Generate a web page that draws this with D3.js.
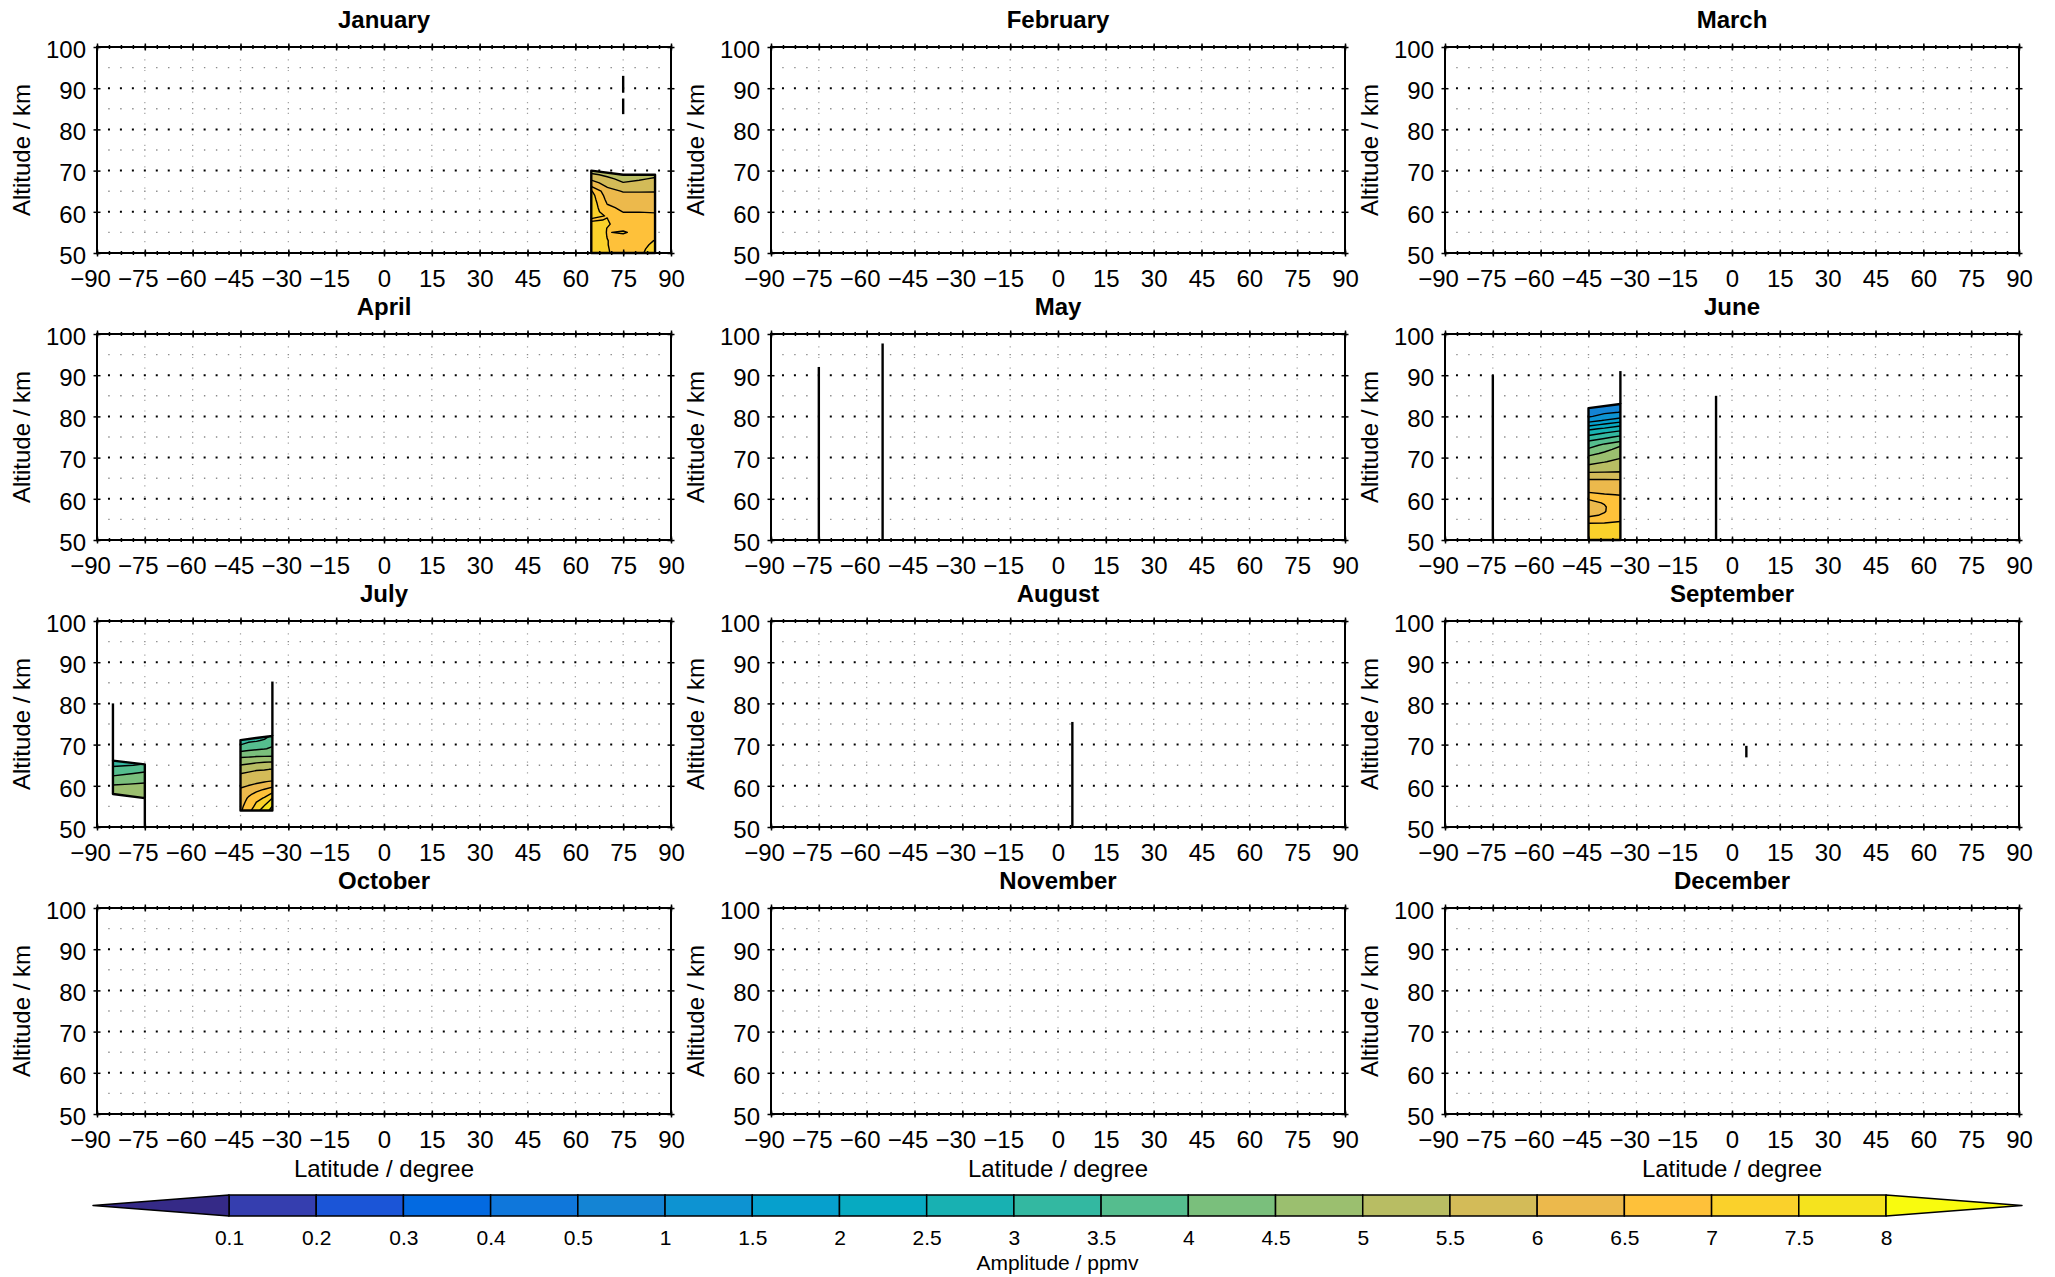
<!DOCTYPE html>
<html><head><meta charset="utf-8">
<script src="https://cdn.jsdelivr.net/npm/d3@7"></script>
<style>
html,body{margin:0;padding:0;background:#fff;}
svg{display:block;}
</style></head><body>
<svg id="chart" width="2055" height="1277"></svg>
<script>
// ---------------- data ----------------
const months = ["January","February","March","April","May","June","July","August","September","October","November","December"];
const latTicks = [-90,-75,-60,-45,-30,-15,0,15,30,45,60,75,90];
const altTicks = [50,60,70,80,90,100];
const altGridMajor = [60,70,80,90];
const altGridMinor = [55,65,75,85,95];
const levels = [0.1,0.2,0.3,0.4,0.5,1,1.5,2,2.5,3,3.5,4,4.5,5,5.5,6,6.5,7,7.5,8];
const levelLabels = ["0.1","0.2","0.3","0.4","0.5","1","1.5","2","2.5","3","3.5","4","4.5","5","5.5","6","6.5","7","7.5","8"];

// January block (rows = altitude 50..70 km, cols = latitude)
const janLats = [65,70,75,80,85];
const janAlts = [50,51,52,53,54,55,56,57,58,59,60,61,62,63,64,65,66,67,68,69,70];
const janValues = [
  [7.30,7.03,6.85,6.95,7.12],
  [7.30,7.02,6.85,6.93,7.10],
  [7.30,7.01,6.85,6.92,7.05],
  [7.30,7.01,6.85,6.90,7.01],
  [7.35,6.99,6.90,6.88,6.94],
  [7.35,6.98,7.05,6.86,6.86],
  [7.30,6.99,6.90,6.82,6.78],
  [7.10,7.05,6.78,6.75,6.70],
  [6.95,7.02,6.68,6.68,6.62],
  [7.10,6.98,6.58,6.60,6.56],
  [7.30,6.72,6.49,6.49,6.48],
  [7.30,6.60,6.40,6.40,6.40],
  [7.30,6.48,6.30,6.30,6.30],
  [7.25,6.38,6.20,6.20,6.20],
  [7.20,6.28,6.10,6.10,6.10],
  [7.05,6.15,5.97,5.97,5.98],
  [6.55,5.99,5.70,5.75,5.85],
  [6.20,5.80,5.52,5.60,5.70],
  [5.90,5.60,5.38,5.45,5.55],
  [5.60,5.40,5.25,5.30,5.40],
  [5.25,5.25,5.20,5.20,5.20]
];
const janOutline = [[65,50],[65,70],[75,69],[85,69],[85,50]];

// June block (rows = altitude 50..83 km)
const junLats = [-45,-40,-35];
const junAlts = [50,51,52,53,54,55,56,57,58,59,60,61,62,63,64,65,66,67,68,69,70,71,72,73,74,75,76,77,78,79,80,81,82,83];
const junValues = [
  [7.35,7.30,7.25],[7.30,7.25,7.20],[7.25,7.20,7.15],[7.15,7.12,7.10],[7.03,7.04,7.04],
  [6.65,6.75,6.96],[6.42,6.55,6.88],[6.33,6.47,6.81],[6.35,6.47,6.73],[6.42,6.52,6.65],
  [6.52,6.55,6.57],[6.55,6.52,6.49],[6.46,6.41,6.36],[6.30,6.27,6.23],[6.13,6.12,6.11],
  [5.94,5.94,5.94],[5.62,5.62,5.62],[5.33,5.37,5.41],[5.06,5.16,5.26],[4.83,4.98,5.12],
  [4.61,4.79,4.97],[4.35,4.58,4.81],[4.07,4.36,4.65],[3.79,4.12,4.45],[3.51,3.74,3.96],
  [3.13,3.37,3.61],[2.77,2.99,3.20],[2.38,2.58,2.79],[1.81,2.08,2.35],[1.31,1.54,1.77],
  [0.95,1.14,1.33],[0.85,0.93,1.01],[0.75,0.82,0.88],[0.70,0.75,0.80]
];
const junOutline = [[-45,50],[-45,82],[-35,83],[-35,50]];

// July blocks
const julALats = [-85,-80,-75];
const julAAlts = [57,58,59,60,61,62,63,64,65,66];
const julAValues = [
  [4.90,4.90,4.90],[4.85,4.84,4.82],[4.70,4.71,4.72],[4.55,4.58,4.60],[4.30,4.38,4.45],
  [4.10,4.18,4.25],[3.85,3.97,4.08],[3.60,3.73,3.85],[3.45,3.48,3.55],[3.30,3.35,3.40]
];
const julAOutline = [[-85,58],[-85,66.1],[-75,65.2],[-75,57]];

const julBLats = [-45,-42.5,-40,-37.5,-35];
const julBAlts = [54,55,56,57,58,59,60,61,62,63,64,65,66,67,68,69,70,71,72];
const julBValues = [
  [6.42,6.85,7.30,7.80,8.15],
  [6.37,6.75,7.12,7.55,8.02],
  [6.30,6.65,7.01,7.30,7.75],
  [6.22,6.56,6.81,7.05,7.51],
  [6.14,6.40,6.62,6.80,7.08],
  [6.06,6.20,6.39,6.55,6.76],
  [5.93,6.01,6.11,6.26,6.38],
  [5.79,5.86,5.91,5.98,6.05],
  [5.64,5.71,5.76,5.82,5.80],
  [5.49,5.57,5.62,5.66,5.62],
  [5.25,5.36,5.45,5.47,5.52],
  [5.01,5.08,5.17,5.22,5.18],
  [4.75,4.80,4.87,4.92,4.96],
  [4.46,4.49,4.53,4.54,4.54],
  [4.10,4.17,4.22,4.25,4.29],
  [3.80,3.87,3.93,3.98,4.05],
  [3.49,3.60,3.69,3.77,3.95],
  [3.35,3.42,3.45,3.56,3.79],
  [3.25,3.30,3.30,3.35,3.62]
];
const julBOutline = [[-45,54],[-45,71.1],[-35,72.1],[-35,54]];

// vertical profile segments: [latitude, altitude bottom, altitude top]
const janLines = [[75,83.7,87.5],[75,88.9,93]];
const mayLines = [[-75,50,92],[-55,50,97.7]];
const junLines = [[-75,50,90],[-35,83,91],[-5,50,85]];
const julLines = [[-85,66.1,80],[-75,50,57],[-35,72.1,85.3]];
const augLines = [[4.5,50,75.5]];
const sepLines = [[4.5,66.9,69.7]];

// ---------------- style ----------------
const palette = ["#352a87","#353eaf","#1b55d7","#036ae1","#0f77db","#1484d4","#0d93d2","#06a0cd","#07aac1","#18b1b2","#33b8a1","#55bd8e","#7abf7c","#9bbf6f","#b8bd63","#d3bb58","#ecb94c","#fec13a","#fad12b","#f5e31e","#f9fb0e"];
const FONT = '"Liberation Sans", Arial, Helvetica, sans-serif';
const PW = 574, PH = 206;
const colX = [97, 771, 1445];
const rowY = [47, 334, 621, 908];

const panelBlocks = {
  0: [{lats: janLats, alts: janAlts, values: janValues, outline: janOutline}],
  5: [{lats: junLats, alts: junAlts, values: junValues, outline: junOutline}],
  6: [{lats: julALats, alts: julAAlts, values: julAValues, outline: julAOutline},
      {lats: julBLats, alts: julBAlts, values: julBValues, outline: julBOutline}]
};
const panelLines = {0: janLines, 4: mayLines, 5: junLines, 6: julLines, 7: augLines, 8: sepLines};

// ---------------- drawing ----------------
const svg = d3.select('#chart').attr('font-family', FONT);
const x = d3.scaleLinear().domain([-90, 90]).range([0, PW]);
const y = d3.scaleLinear().domain([50, 100]).range([PH, 0]);
const minorLats = d3.range(0, 49).map(k => -90 + k * 3.75);
const dotPeriod = PW / 48;

function marks(g, axisFn, scale, values, size, tx, ty) {
  const a = g.append('g').attr('transform', `translate(${tx},${ty})`)
    .call(axisFn(scale).tickValues(values).tickSize(size).tickFormat(''));
  a.select('.domain').remove();
  a.selectAll('line').attr('stroke-width', 1.5);
}

let clipCount = 0;
function drawBlock(g, b) {
  const id = 'clip' + (clipCount++);
  const nx = b.lats.length, ny = b.alts.length;
  const dl = b.lats[1] - b.lats[0], da = b.alts[1] - b.alts[0];
  const proj = d3.geoTransform({
    point(px, py) { this.stream.point(x(b.lats[0] + (px - 0.5) * dl), y(b.alts[0] + (py - 0.5) * da)); }
  });
  const path = d3.geoPath(proj);
  const outline = d3.line().x(d => x(d[0])).y(d => y(d[1]));
  const od = outline(b.outline) + 'Z';
  g.append('clipPath').attr('id', id).append('path').attr('d', od);
  const flat = b.values.flat();
  const bands = d3.contours().size([nx, ny]).thresholds(levels)(flat).filter(c => c.coordinates.length);
  const cg = g.append('g').attr('clip-path', `url(#${id})`);
  cg.append('path').attr('d', od).attr('fill', palette[d3.bisectRight(levels, d3.min(flat))]);
  cg.append('g').selectAll('path').data(bands).join('path')
    .attr('d', path).attr('fill-rule', 'evenodd')
    .attr('fill', c => palette[levels.indexOf(c.value) + 1]);
  cg.append('g').selectAll('path').data(bands).join('path')
    .attr('d', path).attr('fill', 'none').attr('stroke', '#000').attr('stroke-width', 1.4)
    .attr('stroke-linejoin', 'round');
  g.append('path').attr('d', od).attr('fill', 'none').attr('stroke', '#000')
    .attr('stroke-width', 2.4).attr('stroke-linejoin', 'round');
}

months.forEach((m, i) => {
  const r = Math.floor(i / 3), c = i % 3;
  const g = svg.append('g').attr('transform', `translate(${colX[c]},${rowY[r]})`);

  // grid
  g.append('g').selectAll('line').data(latTicks.slice(1, -1)).join('line')
    .attr('x1', d => x(d)).attr('x2', d => x(d)).attr('y1', PH).attr('y2', 0)
    .attr('stroke', '#a0a0a0').attr('stroke-width', 1.2).attr('stroke-dasharray', '1.2 9.5');
  g.append('g').selectAll('line').data(altGridMinor).join('line')
    .attr('x1', 0).attr('x2', PW).attr('y1', d => y(d)).attr('y2', d => y(d))
    .attr('stroke', '#8a8a8a').attr('stroke-width', 1.4)
    .attr('stroke-dasharray', `1.4 ${dotPeriod - 1.4}`).attr('stroke-dashoffset', 0.7);
  g.append('g').selectAll('line').data(altGridMajor).join('line')
    .attr('x1', 0).attr('x2', PW).attr('y1', d => y(d)).attr('y2', d => y(d))
    .attr('stroke', '#000').attr('stroke-width', 2)
    .attr('stroke-dasharray', `2 ${dotPeriod - 2}`).attr('stroke-dashoffset', 1);

  // data
  (panelBlocks[i] || []).forEach(b => drawBlock(g, b));
  g.append('g').selectAll('line').data(panelLines[i] || []).join('line')
    .attr('x1', d => x(d[0])).attr('x2', d => x(d[0]))
    .attr('y1', d => y(d[1])).attr('y2', d => y(d[2]))
    .attr('stroke', '#000').attr('stroke-width', 2.4);

  // frame
  g.append('rect').attr('x', 0).attr('y', 0).attr('width', PW).attr('height', PH)
    .attr('fill', 'none').attr('stroke', '#000').attr('stroke-width', 2);

  // ticks (crossing the frame)
  marks(g, d3.axisBottom, x, latTicks, 3.5, 0, PH);
  marks(g, d3.axisTop, x, latTicks, 3.5, 0, PH);
  marks(g, d3.axisTop, x, latTicks, 3.5, 0, 0);
  marks(g, d3.axisBottom, x, latTicks, 3.5, 0, 0);
  marks(g, d3.axisBottom, x, minorLats, 2, 0, PH);
  marks(g, d3.axisTop, x, minorLats, 2, 0, PH);
  marks(g, d3.axisTop, x, minorLats, 2, 0, 0);
  marks(g, d3.axisBottom, x, minorLats, 2, 0, 0);
  marks(g, d3.axisLeft, y, altTicks, 3.5, 0, 0);
  marks(g, d3.axisRight, y, altTicks, 3.5, 0, 0);
  marks(g, d3.axisRight, y, altTicks, 3.5, PW, 0);
  marks(g, d3.axisLeft, y, altTicks, 3.5, PW, 0);

  // tick labels
  const bx = g.append('g').attr('transform', `translate(0,${PH})`)
    .call(d3.axisBottom(x).tickValues(latTicks).tickSize(0).tickPadding(17));
  bx.attr('font-family', FONT).attr('font-size', 24);
  bx.select('.domain').remove();
  bx.selectAll('text').attr('dx', d => d < 0 ? '-0.292em' : 0);
  const ly = g.append('g')
    .call(d3.axisLeft(y).tickValues(altTicks).tickSize(0).tickPadding(11));
  ly.attr('font-family', FONT).attr('font-size', 24);
  ly.select('.domain').remove();
  ly.selectAll('text').attr('dy', '0.43em');

  // titles
  g.append('text').attr('x', PW / 2).attr('y', -19).attr('text-anchor', 'middle')
    .attr('font-size', 24).attr('font-weight', 'bold').text(m);
  g.append('text').attr('transform', `translate(-67,${PH / 2}) rotate(-90)`)
    .attr('text-anchor', 'middle').attr('font-size', 24).text('Altitude / km');
  if (r === 3) {
    g.append('text').attr('x', PW / 2).attr('y', PH + 63).attr('text-anchor', 'middle')
      .attr('font-size', 24).text('Latitude / degree');
  }
});

// ---------------- colorbar ----------------
const cbTop = 1195, cbH = 21;
const pos = d3.scalePoint().domain(levels).range([229, 1886]);
const cb = svg.append('g');
cb.selectAll('rect').data(levels.slice(0, -1)).join('rect')
  .attr('x', (d, i) => pos(levels[i])).attr('y', cbTop)
  .attr('width', (d, i) => pos(levels[i + 1]) - pos(levels[i])).attr('height', cbH)
  .attr('fill', (d, i) => palette[i + 1]).attr('stroke', '#000').attr('stroke-width', 1.5);
const x0 = pos(levels[0]), x1 = pos(levels[levels.length - 1]);
cb.append('path').attr('d', `M${x0},${cbTop}L93,${cbTop + cbH / 2}L${x0},${cbTop + cbH}Z`)
  .attr('fill', palette[0]).attr('stroke', '#000').attr('stroke-width', 1.5).attr('stroke-linejoin', 'round');
cb.append('path').attr('d', `M${x1},${cbTop}L2022,${cbTop + cbH / 2}L${x1},${cbTop + cbH}Z`)
  .attr('fill', palette[20]).attr('stroke', '#000').attr('stroke-width', 1.5).attr('stroke-linejoin', 'round');
const cbAx = cb.append('g').attr('transform', `translate(0,${cbTop + cbH})`)
  .call(d3.axisBottom(pos).tickSize(0).tickPadding(14).tickFormat((d, i) => levelLabels[i]));
cbAx.attr('font-family', FONT).attr('font-size', 21);
cbAx.select('.domain').remove();
svg.append('text').attr('x', (x0 + x1) / 2).attr('y', 1270).attr('text-anchor', 'middle')
  .attr('font-size', 21).text('Amplitude / ppmv');
</script>
</body></html>
